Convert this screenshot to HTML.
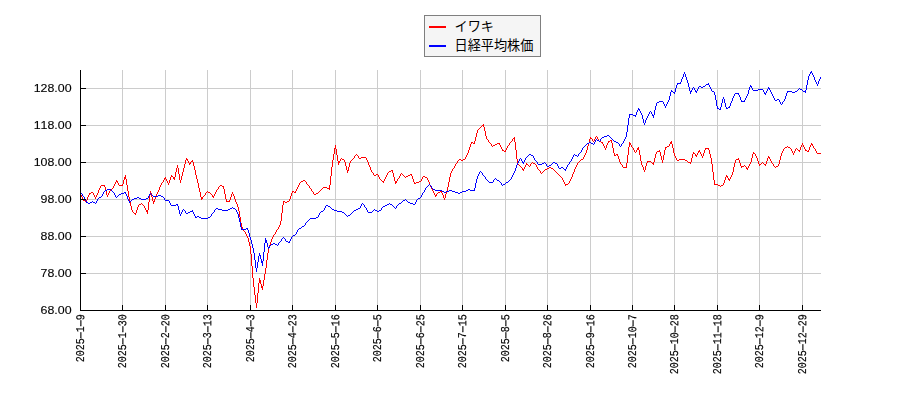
<!DOCTYPE html>
<html lang="ja">
<head>
<meta charset="utf-8">
<title>イワキ と 日経平均株価</title>
<style>
html,body{margin:0;padding:0;background:#fff;}
body{width:900px;height:400px;overflow:hidden;position:relative;font-family:"Liberation Sans",sans-serif;}
svg{position:absolute;left:0;top:0;display:block;}
svg.txt{will-change:transform;}
.yl text{font-family:"Liberation Sans",sans-serif;font-size:11.6px;fill:#000;stroke:#000;stroke-width:0.12px;}
.xl text{font-family:"Liberation Mono",monospace;font-size:10.0px;fill:#000;stroke:#000;stroke-width:0.15px;}
.lg{position:absolute;left:454px;font-family:"Liberation Sans",sans-serif;font-size:13px;line-height:13px;color:transparent;white-space:nowrap;}
</style>
</head>
<body>
<svg width="900" height="400" viewBox="0 0 900 400">
<rect x="0" y="0" width="900" height="400" fill="#ffffff"/>
<g fill="#cccccc" shape-rendering="crispEdges">
<rect x="122" y="70" width="1" height="240"/>
<rect x="165" y="70" width="1" height="240"/>
<rect x="207" y="70" width="1" height="240"/>
<rect x="250" y="70" width="1" height="240"/>
<rect x="292" y="70" width="1" height="240"/>
<rect x="335" y="70" width="1" height="240"/>
<rect x="377" y="70" width="1" height="240"/>
<rect x="420" y="70" width="1" height="240"/>
<rect x="462" y="70" width="1" height="240"/>
<rect x="505" y="70" width="1" height="240"/>
<rect x="547" y="70" width="1" height="240"/>
<rect x="590" y="70" width="1" height="240"/>
<rect x="632" y="70" width="1" height="240"/>
<rect x="674" y="70" width="1" height="240"/>
<rect x="717" y="70" width="1" height="240"/>
<rect x="759" y="70" width="1" height="240"/>
<rect x="802" y="70" width="1" height="240"/>
<rect x="81" y="88" width="740" height="1"/>
<rect x="81" y="125" width="740" height="1"/>
<rect x="81" y="162" width="740" height="1"/>
<rect x="81" y="199" width="740" height="1"/>
<rect x="81" y="236" width="740" height="1"/>
<rect x="81" y="273" width="740" height="1"/>
</g>
<g shape-rendering="crispEdges">
<path fill="#ff0000" d="M483 124h1v3h-1zM482 125h1v1h-1zM481 126h1v1h-1zM480 127h1v1h-1zM484 127h1v4h-1zM479 128h1v1h-1zM478 129h1v1h-1zM477 130h1v3h-1zM485 131h1v5h-1zM476 133h1v4h-1zM486 136h1v3h-1zM596 136h1v1h-1zM475 137h1v4h-1zM514 137h1v5h-1zM590 137h1v2h-1zM595 137h1v2h-1zM597 137h1v2h-1zM513 138h1v1h-1zM591 138h1v1h-1zM487 139h1v1h-1zM512 139h1v2h-1zM589 139h1v4h-1zM592 139h1v2h-1zM594 139h1v2h-1zM598 139h1v2h-1zM488 140h1v2h-1zM610 140h2v1h-2zM474 141h1v3h-1zM511 141h1v1h-1zM593 141h1v1h-1zM599 141h2v1h-2zM608 141h2v1h-2zM611 141h1v2h-1zM671 141h1v3h-1zM471 142h2v1h-2zM489 142h1v1h-1zM510 142h1v1h-1zM515 142h1v8h-1zM601 142h2v1h-2zM608 142h1v1h-1zM629 142h1v5h-1zM670 142h1v2h-1zM471 143h1v1h-1zM473 143h1v1h-1zM490 143h1v1h-1zM497 143h3v1h-3zM509 143h1v2h-1zM588 143h1v3h-1zM602 143h1v1h-1zM607 143h1v2h-1zM612 143h1v5h-1zM630 143h1v2h-1zM802 143h1v2h-1zM811 143h1v2h-1zM470 144h1v3h-1zM491 144h1v2h-1zM495 144h2v1h-2zM499 144h1v1h-1zM603 144h1v2h-1zM669 144h1v2h-1zM672 144h1v4h-1zM812 144h1v2h-1zM335 145h1v4h-1zM493 145h2v1h-2zM500 145h1v2h-1zM508 145h1v1h-1zM606 145h1v3h-1zM631 145h1v2h-1zM801 145h1v2h-1zM803 145h1v2h-1zM810 145h1v2h-1zM492 146h1v1h-1zM507 146h1v2h-1zM587 146h1v4h-1zM604 146h1v2h-1zM667 146h2v1h-2zM787 146h1v1h-1zM813 146h1v2h-1zM469 147h1v3h-1zM501 147h1v2h-1zM628 147h1v8h-1zM632 147h1v1h-1zM638 147h1v3h-1zM665 147h1v3h-1zM666 147h1v1h-1zM785 147h2v1h-2zM788 147h2v1h-2zM800 147h1v3h-1zM804 147h1v2h-1zM809 147h1v3h-1zM334 148h1v6h-1zM506 148h1v2h-1zM605 148h1v2h-1zM613 148h1v5h-1zM633 148h1v2h-1zM637 148h1v2h-1zM673 148h1v5h-1zM705 148h4v1h-4zM784 148h1v1h-1zM790 148h1v1h-1zM796 148h1v1h-1zM814 148h1v1h-1zM336 149h1v6h-1zM502 149h1v2h-1zM705 149h1v1h-1zM708 149h1v1h-1zM783 149h1v2h-1zM791 149h1v2h-1zM795 149h1v2h-1zM797 149h1v1h-1zM805 149h1v2h-1zM815 149h1v2h-1zM468 150h1v3h-1zM503 150h1v1h-1zM505 150h1v2h-1zM516 150h1v9h-1zM586 150h1v3h-1zM634 150h1v2h-1zM636 150h1v2h-1zM639 150h1v5h-1zM659 150h1v2h-1zM664 150h1v5h-1zM699 150h1v2h-1zM704 150h1v3h-1zM709 150h1v4h-1zM798 150h2v1h-2zM806 150h1v1h-1zM808 150h1v2h-1zM504 151h1v1h-1zM657 151h2v1h-2zM698 151h1v2h-1zM782 151h1v2h-1zM792 151h1v2h-1zM794 151h1v2h-1zM799 151h1v1h-1zM807 151h1v1h-1zM816 151h1v2h-1zM635 152h1v1h-1zM656 152h1v2h-1zM660 152h1v4h-1zM693 152h1v2h-1zM700 152h1v2h-1zM753 152h1v2h-1zM467 153h1v2h-1zM585 153h1v2h-1zM614 153h1v3h-1zM674 153h1v3h-1zM694 153h1v1h-1zM697 153h1v2h-1zM703 153h1v3h-1zM754 153h1v1h-1zM781 153h1v3h-1zM793 153h1v2h-1zM817 153h4v1h-4zM333 154h1v6h-1zM356 154h1v1h-1zM616 154h2v1h-2zM655 154h1v4h-1zM692 154h1v4h-1zM695 154h1v2h-1zM701 154h1v2h-1zM710 154h1v4h-1zM752 154h1v4h-1zM755 154h1v2h-1zM337 155h1v6h-1zM355 155h1v1h-1zM357 155h1v1h-1zM466 155h1v2h-1zM584 155h1v2h-1zM615 155h1v1h-1zM617 155h1v1h-1zM627 155h1v8h-1zM640 155h1v6h-1zM663 155h1v5h-1zM696 155h1v2h-1zM354 156h1v2h-1zM358 156h1v2h-1zM618 156h1v3h-1zM661 156h1v4h-1zM675 156h1v2h-1zM702 156h1v2h-1zM756 156h1v2h-1zM768 156h1v2h-1zM780 156h1v4h-1zM361 157h5v1h-5zM465 157h1v2h-1zM583 157h1v2h-1zM769 157h1v2h-1zM186 158h1v2h-1zM341 158h1v1h-1zM353 158h1v1h-1zM359 158h2v1h-2zM366 158h1v2h-1zM654 158h1v4h-1zM676 158h1v2h-1zM691 158h1v4h-1zM711 158h1v6h-1zM738 158h1v2h-1zM751 158h1v4h-1zM757 158h1v3h-1zM767 158h1v3h-1zM187 159h1v2h-1zM340 159h1v2h-1zM342 159h2v1h-2zM352 159h1v1h-1zM459 159h2v1h-2zM463 159h2v1h-2zM517 159h1v5h-1zM581 159h2v1h-2zM619 159h1v3h-1zM679 159h6v1h-6zM736 159h2v1h-2zM770 159h1v2h-1zM185 160h1v4h-1zM192 160h1v2h-1zM332 160h1v7h-1zM344 160h1v2h-1zM351 160h1v1h-1zM367 160h1v2h-1zM458 160h1v1h-1zM461 160h2v1h-2zM580 160h1v1h-1zM662 160h1v3h-1zM677 160h2v1h-2zM685 160h2v1h-2zM735 160h1v3h-1zM739 160h1v3h-1zM779 160h1v4h-1zM188 161h1v2h-1zM191 161h1v1h-1zM338 161h1v4h-1zM339 161h1v2h-1zM350 161h1v2h-1zM457 161h1v2h-1zM579 161h1v1h-1zM641 161h1v4h-1zM647 161h4v1h-4zM687 161h1v1h-1zM758 161h1v3h-1zM766 161h1v3h-1zM771 161h1v2h-1zM190 162h1v2h-1zM193 162h1v4h-1zM345 162h1v4h-1zM368 162h1v3h-1zM532 162h1v1h-1zM578 162h1v1h-1zM620 162h1v2h-1zM647 162h1v1h-1zM651 162h1v1h-1zM653 162h1v3h-1zM688 162h3v1h-3zM750 162h1v2h-1zM762 162h1v1h-1zM189 163h1v2h-1zM349 163h1v4h-1zM456 163h1v1h-1zM526 163h1v2h-1zM531 163h1v1h-1zM533 163h2v1h-2zM577 163h1v2h-1zM626 163h1v5h-1zM646 163h1v3h-1zM652 163h1v1h-1zM690 163h1v1h-1zM734 163h1v4h-1zM740 163h1v3h-1zM761 163h1v1h-1zM763 163h1v1h-1zM772 163h1v1h-1zM184 164h1v4h-1zM455 164h1v2h-1zM518 164h1v1h-1zM527 164h1v1h-1zM530 164h1v2h-1zM535 164h1v1h-1zM621 164h1v1h-1zM712 164h1v8h-1zM749 164h1v2h-1zM759 164h2v1h-2zM764 164h2v1h-2zM773 164h1v2h-1zM778 164h1v2h-1zM177 165h1v3h-1zM369 165h1v2h-1zM519 165h1v1h-1zM525 165h1v2h-1zM528 165h1v1h-1zM536 165h1v2h-1zM576 165h1v2h-1zM622 165h1v2h-1zM642 165h1v2h-1zM744 165h1v1h-1zM759 165h1v1h-1zM765 165h1v1h-1zM194 166h1v4h-1zM346 166h1v4h-1zM454 166h1v2h-1zM520 166h1v1h-1zM529 166h1v1h-1zM645 166h1v4h-1zM741 166h3v1h-3zM745 166h1v1h-1zM748 166h1v2h-1zM774 166h1v1h-1zM776 166h2v1h-2zM331 167h1v9h-1zM348 167h1v4h-1zM370 167h1v3h-1zM521 167h1v1h-1zM524 167h1v2h-1zM537 167h1v2h-1zM549 167h2v1h-2zM575 167h1v2h-1zM623 167h3v1h-3zM643 167h1v3h-1zM733 167h1v5h-1zM741 167h1v1h-1zM746 167h1v2h-1zM775 167h1v1h-1zM176 168h1v4h-1zM178 168h1v6h-1zM183 168h1v4h-1zM453 168h1v1h-1zM522 168h1v2h-1zM547 168h2v1h-2zM551 168h2v1h-2zM747 168h1v2h-1zM452 169h1v2h-1zM523 169h1v2h-1zM538 169h1v1h-1zM545 169h2v1h-2zM553 169h1v1h-1zM574 169h1v3h-1zM195 170h1v5h-1zM347 170h1v3h-1zM371 170h1v2h-1zM391 170h2v1h-2zM539 170h1v1h-1zM544 170h1v1h-1zM554 170h1v1h-1zM644 170h1v2h-1zM389 171h2v1h-2zM392 171h1v2h-1zM451 171h1v2h-1zM540 171h1v2h-1zM543 171h1v1h-1zM555 171h1v1h-1zM175 172h1v5h-1zM182 172h1v4h-1zM372 172h1v1h-1zM388 172h1v1h-1zM542 172h1v1h-1zM556 172h1v1h-1zM573 172h1v2h-1zM713 172h1v8h-1zM732 172h1v3h-1zM373 173h1v2h-1zM387 173h1v2h-1zM393 173h1v4h-1zM401 173h1v1h-1zM450 173h1v4h-1zM541 173h1v1h-1zM557 173h1v1h-1zM179 174h1v6h-1zM376 174h2v1h-2zM400 174h1v2h-1zM402 174h1v1h-1zM410 174h2v1h-2zM558 174h1v1h-1zM572 174h1v3h-1zM125 175h1v4h-1zM171 175h1v2h-1zM196 175h1v4h-1zM374 175h2v1h-2zM378 175h1v2h-1zM386 175h1v2h-1zM403 175h1v1h-1zM408 175h2v1h-2zM411 175h1v1h-1zM559 175h1v1h-1zM726 175h1v2h-1zM731 175h1v2h-1zM172 176h1v1h-1zM181 176h1v4h-1zM330 176h1v9h-1zM399 176h1v2h-1zM404 176h1v1h-1zM406 176h2v1h-2zM412 176h1v3h-1zM423 176h2v1h-2zM560 176h1v1h-1zM727 176h1v2h-1zM124 177h1v3h-1zM165 177h1v2h-1zM170 177h1v3h-1zM173 177h2v1h-2zM379 177h1v2h-1zM385 177h1v2h-1zM394 177h1v4h-1zM405 177h1v1h-1zM422 177h1v2h-1zM425 177h2v1h-2zM449 177h1v5h-1zM561 177h1v1h-1zM571 177h1v2h-1zM725 177h1v3h-1zM730 177h1v2h-1zM164 178h1v2h-1zM173 178h2v1h-2zM398 178h1v1h-1zM427 178h1v2h-1zM562 178h1v2h-1zM728 178h1v2h-1zM126 179h1v6h-1zM166 179h1v2h-1zM174 179h1v1h-1zM197 179h1v4h-1zM380 179h1v1h-1zM384 179h1v2h-1zM397 179h1v2h-1zM413 179h1v3h-1zM421 179h1v2h-1zM570 179h1v2h-1zM729 179h1v2h-1zM116 180h1v2h-1zM123 180h1v4h-1zM163 180h1v2h-1zM169 180h1v3h-1zM180 180h1v3h-1zM303 180h2v1h-2zM381 180h1v1h-1zM428 180h1v2h-1zM563 180h1v2h-1zM714 180h1v5h-1zM724 180h1v3h-1zM117 181h1v2h-1zM167 181h1v2h-1zM301 181h2v1h-2zM305 181h1v1h-1zM382 181h2v1h-2zM395 181h1v3h-1zM396 181h1v2h-1zM419 181h2v1h-2zM569 181h1v2h-1zM115 182h1v2h-1zM162 182h1v1h-1zM300 182h1v1h-1zM306 182h1v2h-1zM383 182h1v1h-1zM414 182h1v2h-1zM416 182h3v1h-3zM429 182h1v3h-1zM448 182h1v5h-1zM564 182h1v2h-1zM118 183h1v2h-1zM161 183h1v2h-1zM168 183h1v2h-1zM198 183h1v5h-1zM299 183h1v2h-1zM415 183h1v1h-1zM568 183h1v1h-1zM723 183h1v2h-1zM114 184h1v2h-1zM122 184h1v2h-1zM307 184h1v1h-1zM565 184h3v1h-3zM715 184h3v1h-3zM101 185h4v1h-4zM119 185h3v1h-3zM127 185h1v6h-1zM160 185h1v2h-1zM220 185h2v1h-2zM298 185h1v2h-1zM308 185h1v1h-1zM329 185h1v5h-1zM430 185h1v2h-1zM565 185h1v1h-1zM718 185h2v1h-2zM721 185h2v1h-2zM100 186h1v2h-1zM104 186h1v1h-1zM113 186h1v2h-1zM219 186h1v1h-1zM222 186h2v1h-2zM309 186h1v2h-1zM720 186h1v1h-1zM105 187h1v4h-1zM159 187h1v3h-1zM218 187h1v2h-1zM223 187h1v2h-1zM297 187h1v2h-1zM323 187h4v1h-4zM431 187h1v2h-1zM447 187h1v4h-1zM99 188h1v2h-1zM112 188h1v1h-1zM199 188h1v4h-1zM310 188h1v1h-1zM322 188h1v1h-1zM327 188h2v1h-2zM111 189h1v1h-1zM217 189h1v1h-1zM224 189h1v5h-1zM296 189h1v2h-1zM311 189h1v2h-1zM321 189h1v1h-1zM432 189h1v2h-1zM98 190h1v3h-1zM110 190h1v1h-1zM158 190h1v2h-1zM216 190h1v2h-1zM320 190h1v1h-1zM106 191h1v4h-1zM109 191h1v2h-1zM128 191h1v6h-1zM150 191h1v4h-1zM207 191h1v1h-1zM292 191h2v1h-2zM295 191h1v2h-1zM312 191h1v1h-1zM319 191h1v1h-1zM433 191h1v2h-1zM440 191h2v1h-2zM446 191h1v3h-1zM91 192h2v1h-2zM157 192h1v2h-1zM200 192h1v5h-1zM206 192h1v1h-1zM208 192h2v1h-2zM215 192h1v2h-1zM232 192h1v2h-1zM292 192h1v1h-1zM294 192h1v1h-1zM313 192h1v2h-1zM318 192h1v1h-1zM438 192h2v1h-2zM441 192h1v1h-1zM89 193h2v1h-2zM93 193h1v2h-1zM97 193h1v2h-1zM108 193h1v2h-1zM151 193h1v4h-1zM205 193h1v2h-1zM210 193h1v1h-1zM291 193h1v3h-1zM316 193h2v1h-2zM434 193h1v2h-1zM437 193h1v1h-1zM442 193h1v2h-1zM80 194h1v1h-1zM89 194h1v1h-1zM156 194h1v3h-1zM211 194h1v1h-1zM214 194h1v2h-1zM225 194h1v5h-1zM231 194h1v3h-1zM233 194h1v2h-1zM314 194h2v1h-2zM436 194h1v2h-1zM445 194h1v4h-1zM81 195h1v2h-1zM88 195h1v2h-1zM94 195h1v2h-1zM96 195h1v2h-1zM107 195h1v2h-1zM149 195h1v7h-1zM204 195h1v1h-1zM212 195h1v2h-1zM435 195h1v2h-1zM443 195h1v3h-1zM203 196h1v1h-1zM213 196h1v2h-1zM234 196h1v3h-1zM290 196h1v3h-1zM82 197h1v2h-1zM87 197h1v3h-1zM95 197h1v2h-1zM129 197h1v5h-1zM152 197h1v4h-1zM155 197h1v2h-1zM201 197h1v3h-1zM202 197h1v2h-1zM230 197h1v3h-1zM444 198h1v2h-1zM83 199h1v2h-1zM154 199h1v3h-1zM226 199h1v3h-1zM235 199h1v3h-1zM289 199h1v2h-1zM84 200h1v1h-1zM86 200h1v2h-1zM229 200h1v2h-1zM85 201h1v1h-1zM153 201h1v3h-1zM227 201h2v1h-2zM283 201h1v4h-1zM284 201h1v1h-1zM287 201h2v1h-2zM130 202h1v4h-1zM148 202h1v8h-1zM236 202h1v2h-1zM285 202h2v1h-2zM141 203h1v1h-1zM139 204h2v1h-2zM142 204h1v1h-1zM237 204h1v3h-1zM138 205h1v2h-1zM143 205h1v1h-1zM282 205h1v8h-1zM131 206h1v4h-1zM144 206h1v2h-1zM137 207h1v3h-1zM238 207h1v4h-1zM145 208h1v2h-1zM132 210h1v2h-1zM136 210h1v3h-1zM146 210h2v1h-2zM146 211h2v1h-2zM239 211h1v6h-1zM133 212h1v1h-1zM147 212h1v2h-1zM134 213h2v1h-2zM281 213h1v8h-1zM135 214h1v1h-1zM240 217h1v6h-1zM280 221h1v4h-1zM241 223h1v4h-1zM279 225h1v2h-1zM242 227h1v2h-1zM278 227h1v2h-1zM243 229h1v2h-1zM277 229h1v1h-1zM276 230h1v2h-1zM244 231h1v1h-1zM245 232h1v2h-1zM275 232h1v2h-1zM246 234h1v2h-1zM274 234h1v1h-1zM273 235h1v2h-1zM247 236h1v2h-1zM272 237h1v2h-1zM248 238h1v4h-1zM271 239h1v3h-1zM249 242h1v4h-1zM270 242h1v3h-1zM269 245h1v3h-1zM250 246h1v8h-1zM268 248h1v5h-1zM267 253h1v7h-1zM251 254h1v12h-1zM266 260h1v8h-1zM252 266h1v12h-1zM265 268h1v6h-1zM264 274h1v6h-1zM253 278h1v9h-1zM259 278h1v5h-1zM260 280h1v4h-1zM263 280h1v6h-1zM258 283h1v10h-1zM261 284h1v4h-1zM262 286h1v4h-1zM254 287h1v8h-1zM257 293h1v10h-1zM255 295h1v8h-1zM256 303h1v5h-1z"/>
<path fill="#0000ff" d="M811 71h1v2h-1zM684 72h1v2h-1zM810 72h1v2h-1zM812 73h1v2h-1zM683 74h1v3h-1zM685 74h1v3h-1zM809 74h1v2h-1zM813 75h1v2h-1zM808 76h1v4h-1zM682 77h1v2h-1zM686 77h1v3h-1zM814 77h1v3h-1zM820 77h1v2h-1zM681 79h1v3h-1zM819 79h1v2h-1zM687 80h1v3h-1zM807 80h1v5h-1zM815 80h1v2h-1zM818 81h1v3h-1zM680 82h1v2h-1zM816 82h1v2h-1zM677 83h3v1h-3zM688 83h1v4h-1zM708 83h1v2h-1zM677 84h1v1h-1zM706 84h2v1h-2zM817 84h1v2h-1zM676 85h1v3h-1zM705 85h1v1h-1zM709 85h1v2h-1zM750 85h1v2h-1zM806 85h1v5h-1zM699 86h2v1h-2zM703 86h2v1h-2zM751 86h1v2h-1zM689 87h1v4h-1zM693 87h1v1h-1zM698 87h1v2h-1zM701 87h2v1h-2zM710 87h1v2h-1zM749 87h1v3h-1zM768 87h1v2h-1zM675 88h1v4h-1zM692 88h1v2h-1zM694 88h1v2h-1zM752 88h1v2h-1zM769 88h1v2h-1zM799 88h1v1h-1zM697 89h1v2h-1zM711 89h1v2h-1zM758 89h5v1h-5zM767 89h1v2h-1zM798 89h1v1h-1zM800 89h2v1h-2zM671 90h1v2h-1zM691 90h1v2h-1zM695 90h1v2h-1zM748 90h1v4h-1zM753 90h5v1h-5zM763 90h1v2h-1zM770 90h1v2h-1zM797 90h1v1h-1zM802 90h1v1h-1zM805 90h1v3h-1zM672 91h1v1h-1zM690 91h1v3h-1zM696 91h1v2h-1zM712 91h2v1h-2zM766 91h1v2h-1zM787 91h5v1h-5zM795 91h2v1h-2zM803 91h2v1h-2zM670 92h1v4h-1zM673 92h2v1h-2zM714 92h1v3h-1zM764 92h1v2h-1zM771 92h1v2h-1zM787 92h1v1h-1zM792 92h3v1h-3zM674 93h1v1h-1zM735 93h4v1h-4zM765 93h1v2h-1zM786 93h1v3h-1zM734 94h1v2h-1zM738 94h1v1h-1zM747 94h1v2h-1zM772 94h1v2h-1zM715 95h1v5h-1zM739 95h1v2h-1zM669 96h1v4h-1zM733 96h1v2h-1zM746 96h1v2h-1zM773 96h1v2h-1zM785 96h1v3h-1zM723 97h1v2h-1zM740 97h1v3h-1zM732 98h1v3h-1zM745 98h1v2h-1zM774 98h1v2h-1zM722 99h1v4h-1zM724 99h1v4h-1zM777 99h2v1h-2zM784 99h1v2h-1zM668 100h1v2h-1zM716 100h1v6h-1zM741 100h1v2h-1zM744 100h1v2h-1zM775 100h2v1h-2zM779 100h1v2h-1zM659 101h4v1h-4zM731 101h1v2h-1zM742 101h2v1h-2zM783 101h1v1h-1zM657 102h2v1h-2zM663 102h1v2h-1zM667 102h1v2h-1zM780 102h1v2h-1zM782 102h1v2h-1zM656 103h1v3h-1zM721 103h1v4h-1zM725 103h1v4h-1zM730 103h1v3h-1zM664 104h1v2h-1zM666 104h1v2h-1zM781 104h1v1h-1zM655 106h1v4h-1zM665 106h1v2h-1zM717 106h1v3h-1zM729 106h1v2h-1zM720 107h1v3h-1zM726 107h1v2h-1zM728 107h1v1h-1zM638 108h1v2h-1zM718 108h1v1h-1zM727 108h1v1h-1zM639 109h1v2h-1zM719 109h1v1h-1zM637 110h1v2h-1zM654 110h1v5h-1zM640 111h1v2h-1zM650 111h1v1h-1zM636 112h1v3h-1zM649 112h1v2h-1zM651 112h1v2h-1zM641 113h1v2h-1zM629 114h4v1h-4zM648 114h1v2h-1zM652 114h1v2h-1zM629 115h1v3h-1zM633 115h3v1h-3zM642 115h1v4h-1zM653 115h1v3h-1zM635 116h1v1h-1zM647 116h1v2h-1zM628 118h1v7h-1zM646 118h1v2h-1zM643 119h1v4h-1zM645 120h1v3h-1zM644 123h1v2h-1zM627 125h1v7h-1zM626 132h1v5h-1zM607 135h2v1h-2zM604 136h3v1h-3zM609 136h1v1h-1zM602 137h2v1h-2zM610 137h1v1h-1zM625 137h1v2h-1zM601 138h1v1h-1zM611 138h1v1h-1zM596 139h1v1h-1zM600 139h1v2h-1zM612 139h1v1h-1zM624 139h1v2h-1zM595 140h1v2h-1zM597 140h2v1h-2zM613 140h1v1h-1zM599 141h1v1h-1zM614 141h2v1h-2zM623 141h1v2h-1zM589 142h2v1h-2zM594 142h1v2h-1zM616 142h2v1h-2zM587 143h2v1h-2zM591 143h2v1h-2zM618 143h1v1h-1zM622 143h1v1h-1zM586 144h1v1h-1zM593 144h1v1h-1zM619 144h1v2h-1zM621 144h1v2h-1zM585 145h1v1h-1zM584 146h1v1h-1zM620 146h1v1h-1zM583 147h1v1h-1zM582 148h1v2h-1zM581 150h1v2h-1zM580 152h1v1h-1zM579 153h1v1h-1zM529 154h2v1h-2zM574 154h1v1h-1zM578 154h1v2h-1zM528 155h1v1h-1zM531 155h2v1h-2zM573 155h1v2h-1zM575 155h2v1h-2zM527 156h1v1h-1zM533 156h1v2h-1zM577 156h1v1h-1zM526 157h1v1h-1zM572 157h1v2h-1zM520 158h1v1h-1zM525 158h1v2h-1zM534 158h1v2h-1zM519 159h1v2h-1zM521 159h1v2h-1zM571 159h1v2h-1zM524 160h1v2h-1zM535 160h1v1h-1zM518 161h1v2h-1zM522 161h1v2h-1zM536 161h1v1h-1zM570 161h1v1h-1zM523 162h1v2h-1zM537 162h1v2h-1zM544 162h1v1h-1zM553 162h2v1h-2zM569 162h1v2h-1zM517 163h1v2h-1zM542 163h2v1h-2zM545 163h1v1h-1zM552 163h1v1h-1zM555 163h2v1h-2zM538 164h4v1h-4zM546 164h1v2h-1zM551 164h1v1h-1zM557 164h1v2h-1zM568 164h1v1h-1zM516 165h1v3h-1zM549 165h2v1h-2zM567 165h1v2h-1zM547 166h2v1h-2zM558 166h1v2h-1zM561 167h2v1h-2zM566 167h1v2h-1zM515 168h1v3h-1zM559 168h2v1h-2zM563 168h1v1h-1zM564 169h2v1h-2zM565 170h1v1h-1zM480 171h1v1h-1zM514 171h1v2h-1zM479 172h1v2h-1zM481 172h1v1h-1zM482 173h1v2h-1zM513 173h1v2h-1zM478 174h1v2h-1zM483 175h1v1h-1zM512 175h1v2h-1zM477 176h1v3h-1zM484 176h1v1h-1zM485 177h1v2h-1zM511 177h1v2h-1zM495 178h1v1h-1zM476 179h1v4h-1zM486 179h1v1h-1zM494 179h1v1h-1zM496 179h1v1h-1zM510 179h1v1h-1zM487 180h1v1h-1zM493 180h1v2h-1zM497 180h2v1h-2zM509 180h1v1h-1zM488 181h1v1h-1zM499 181h1v1h-1zM508 181h1v1h-1zM489 182h4v1h-4zM500 182h1v1h-1zM506 182h2v1h-2zM475 183h1v5h-1zM501 183h1v2h-1zM505 183h1v1h-1zM429 184h1v1h-1zM503 184h2v1h-2zM428 185h1v1h-1zM430 185h1v1h-1zM502 185h1v1h-1zM427 186h1v1h-1zM431 186h1v2h-1zM426 187h1v1h-1zM425 188h1v2h-1zM432 188h1v1h-1zM474 188h1v3h-1zM107 189h4v1h-4zM433 189h2v1h-2zM468 189h2v1h-2zM105 190h2v1h-2zM111 190h1v1h-1zM424 190h1v2h-1zM435 190h7v1h-7zM449 190h3v1h-3zM466 190h2v1h-2zM470 190h4v1h-4zM104 191h1v1h-1zM112 191h1v1h-1zM442 191h2v1h-2zM446 191h3v1h-3zM452 191h3v1h-3zM462 191h4v1h-4zM80 192h1v1h-1zM103 192h1v2h-1zM113 192h1v1h-1zM124 192h2v1h-2zM423 192h1v1h-1zM444 192h2v1h-2zM455 192h3v1h-3zM460 192h2v1h-2zM81 193h1v1h-1zM114 193h1v2h-1zM121 193h3v1h-3zM125 193h1v1h-1zM150 193h1v1h-1zM422 193h1v2h-1zM458 193h2v1h-2zM82 194h1v2h-1zM102 194h1v2h-1zM119 194h2v1h-2zM126 194h1v2h-1zM149 194h1v2h-1zM151 194h1v1h-1zM115 195h1v2h-1zM118 195h1v1h-1zM152 195h1v1h-1zM158 195h3v1h-3zM421 195h1v2h-1zM83 196h1v1h-1zM101 196h1v1h-1zM117 196h1v1h-1zM127 196h1v3h-1zM148 196h1v2h-1zM153 196h5v1h-5zM161 196h2v1h-2zM84 197h1v2h-1zM99 197h2v1h-2zM116 197h1v1h-1zM137 197h2v1h-2zM163 197h1v1h-1zM420 197h1v1h-1zM98 198h1v1h-1zM134 198h3v1h-3zM139 198h2v1h-2zM146 198h2v1h-2zM164 198h1v2h-1zM418 198h2v1h-2zM85 199h1v2h-1zM97 199h1v2h-1zM128 199h1v2h-1zM132 199h2v1h-2zM141 199h5v1h-5zM405 199h1v1h-1zM417 199h1v1h-1zM131 200h1v1h-1zM165 200h4v1h-4zM403 200h2v1h-2zM406 200h1v1h-1zM416 200h1v2h-1zM86 201h1v2h-1zM92 201h1v1h-1zM96 201h1v2h-1zM129 201h2v1h-2zM169 201h1v2h-1zM402 201h1v1h-1zM407 201h1v1h-1zM87 202h1v1h-1zM90 202h2v1h-2zM93 202h2v1h-2zM129 202h1v1h-1zM401 202h1v1h-1zM408 202h2v1h-2zM415 202h1v2h-1zM88 203h2v1h-2zM95 203h1v1h-1zM170 203h1v2h-1zM362 203h1v1h-1zM389 203h1v1h-1zM399 203h2v1h-2zM410 203h3v1h-3zM176 204h2v1h-2zM361 204h1v2h-1zM363 204h1v1h-1zM387 204h2v1h-2zM390 204h2v1h-2zM398 204h1v1h-1zM413 204h2v1h-2zM171 205h5v1h-5zM177 205h1v1h-1zM326 205h2v1h-2zM364 205h1v2h-1zM385 205h2v1h-2zM392 205h1v1h-1zM397 205h1v1h-1zM178 206h1v4h-1zM325 206h1v2h-1zM328 206h2v1h-2zM360 206h1v2h-1zM383 206h2v1h-2zM393 206h1v1h-1zM396 206h1v2h-1zM232 207h1v1h-1zM330 207h1v1h-1zM365 207h1v1h-1zM382 207h1v1h-1zM394 207h1v1h-1zM216 208h2v1h-2zM230 208h2v1h-2zM233 208h2v1h-2zM324 208h1v2h-1zM331 208h1v1h-1zM358 208h2v1h-2zM366 208h1v2h-1zM381 208h1v2h-1zM395 208h1v1h-1zM183 209h1v1h-1zM215 209h1v1h-1zM218 209h4v1h-4zM228 209h2v1h-2zM235 209h1v1h-1zM332 209h2v1h-2zM356 209h2v1h-2zM374 209h1v1h-1zM179 210h1v4h-1zM182 210h1v2h-1zM184 210h1v1h-1zM192 210h1v2h-1zM214 210h1v2h-1zM222 210h6v1h-6zM236 210h1v2h-1zM323 210h1v1h-1zM334 210h3v1h-3zM354 210h2v1h-2zM367 210h1v2h-1zM373 210h1v1h-1zM375 210h2v1h-2zM379 210h2v1h-2zM185 211h1v2h-1zM190 211h2v1h-2zM321 211h2v1h-2zM337 211h5v1h-5zM353 211h1v1h-1zM372 211h1v1h-1zM377 211h2v1h-2zM181 212h1v2h-1zM188 212h2v1h-2zM193 212h1v2h-1zM213 212h1v1h-1zM237 212h1v2h-1zM320 212h1v1h-1zM342 212h2v1h-2zM352 212h1v1h-1zM368 212h4v1h-4zM186 213h2v1h-2zM212 213h1v1h-1zM319 213h1v2h-1zM344 213h1v1h-1zM351 213h1v1h-1zM180 214h1v2h-1zM194 214h1v2h-1zM211 214h1v2h-1zM238 214h1v4h-1zM345 214h1v1h-1zM350 214h1v1h-1zM318 215h1v2h-1zM346 215h1v1h-1zM348 215h2v1h-2zM195 216h1v2h-1zM197 216h2v1h-2zM210 216h1v1h-1zM347 216h1v1h-1zM196 217h1v1h-1zM199 217h2v1h-2zM208 217h2v1h-2zM316 217h2v1h-2zM201 218h7v1h-7zM239 218h1v4h-1zM310 218h6v1h-6zM309 219h1v1h-1zM308 220h1v1h-1zM307 221h1v1h-1zM240 222h1v5h-1zM306 222h1v1h-1zM305 223h1v2h-1zM304 225h1v1h-1zM302 226h2v1h-2zM241 227h1v3h-1zM301 227h1v1h-1zM246 228h2v1h-2zM299 228h2v1h-2zM242 229h4v1h-4zM247 229h1v1h-1zM298 229h1v1h-1zM248 230h1v3h-1zM297 230h1v2h-1zM296 232h1v2h-1zM249 233h1v4h-1zM295 234h1v1h-1zM293 235h2v1h-2zM292 236h1v1h-1zM250 237h1v3h-1zM283 237h1v1h-1zM291 237h1v2h-1zM265 238h1v5h-1zM282 238h1v1h-1zM284 238h1v1h-1zM281 239h1v2h-1zM285 239h1v2h-1zM290 239h1v2h-1zM251 240h1v4h-1zM266 240h1v3h-1zM280 241h1v1h-1zM286 241h2v1h-2zM289 241h1v2h-1zM279 242h1v1h-1zM288 242h1v1h-1zM264 243h1v9h-1zM267 243h1v4h-1zM273 243h2v1h-2zM278 243h1v2h-1zM252 244h1v4h-1zM271 244h2v1h-2zM275 244h2v1h-2zM270 245h1v1h-1zM277 245h1v1h-1zM269 246h1v2h-1zM268 247h1v2h-1zM253 248h1v5h-1zM263 252h1v9h-1zM254 253h1v7h-1zM259 253h1v3h-1zM260 255h1v4h-1zM258 256h1v6h-1zM261 259h1v4h-1zM255 260h1v8h-1zM262 261h1v5h-1zM257 262h1v6h-1zM256 268h1v4h-1z"/>
</g>
<g fill="#000000" shape-rendering="crispEdges">
<rect x="80" y="70" width="1" height="241"/>
<rect x="80" y="310" width="741" height="1"/>
<rect x="122" y="305" width="1" height="5"/>
<rect x="165" y="305" width="1" height="5"/>
<rect x="207" y="305" width="1" height="5"/>
<rect x="250" y="305" width="1" height="5"/>
<rect x="292" y="305" width="1" height="5"/>
<rect x="335" y="305" width="1" height="5"/>
<rect x="377" y="305" width="1" height="5"/>
<rect x="420" y="305" width="1" height="5"/>
<rect x="462" y="305" width="1" height="5"/>
<rect x="505" y="305" width="1" height="5"/>
<rect x="547" y="305" width="1" height="5"/>
<rect x="590" y="305" width="1" height="5"/>
<rect x="632" y="305" width="1" height="5"/>
<rect x="674" y="305" width="1" height="5"/>
<rect x="717" y="305" width="1" height="5"/>
<rect x="759" y="305" width="1" height="5"/>
<rect x="802" y="305" width="1" height="5"/>
<rect x="81" y="88" width="5" height="1"/>
<rect x="81" y="125" width="5" height="1"/>
<rect x="81" y="162" width="5" height="1"/>
<rect x="81" y="199" width="5" height="1"/>
<rect x="81" y="236" width="5" height="1"/>
<rect x="81" y="273" width="5" height="1"/>
</g>
<g shape-rendering="crispEdges">
<rect x="424.5" y="15.5" width="116" height="41" fill="#f5f5f5" stroke="#7f7f7f" stroke-width="1"/>
<rect x="429" y="26" width="17" height="2" fill="#ff0000"/>
<rect x="429" y="45" width="17" height="2" fill="#0000ff"/>
</g>
<g fill="#000000" font-family="&quot;Liberation Sans&quot;, &quot;Noto Sans CJK JP&quot;, sans-serif" font-size="13.15px">
<text x="454.5" y="31">イワキ</text>
<text x="454.5" y="50">日経平均株価</text>
</g>
</svg>
<svg class="txt" width="900" height="400" viewBox="0 0 900 400">
<g class="yl">
<text transform="translate(71.6,92.2) scale(1.07,1)" x="-35.48 -29.03 -22.58 -16.13 -12.90 -6.45">128.00</text>
<text transform="translate(71.6,129.2) scale(1.07,1)" x="-35.48 -29.03 -22.58 -16.13 -12.90 -6.45">118.00</text>
<text transform="translate(71.6,166.2) scale(1.07,1)" x="-35.48 -29.03 -22.58 -16.13 -12.90 -6.45">108.00</text>
<text transform="translate(71.6,203.2) scale(1.07,1)" x="-29.03 -22.58 -16.13 -12.90 -6.45">98.00</text>
<text transform="translate(71.6,240.2) scale(1.07,1)" x="-29.03 -22.58 -16.13 -12.90 -6.45">88.00</text>
<text transform="translate(71.6,277.2) scale(1.07,1)" x="-29.03 -22.58 -16.13 -12.90 -6.45">78.00</text>
<text transform="translate(71.6,314.2) scale(1.07,1)" x="-29.03 -22.58 -16.13 -12.90 -6.45">68.00</text>
</g>
<g class="xl">
<text transform="translate(84.0,362.2) rotate(-89.8) scale(1.0,1.2)"><tspan x="0.00 6.00 12.00 18.00">2025</tspan><tspan x="21.00" textLength="12.00" lengthAdjust="spacingAndGlyphs">-</tspan><tspan x="30.00">1</tspan><tspan x="33.00" textLength="12.00" lengthAdjust="spacingAndGlyphs">-</tspan><tspan x="42.00">9</tspan></text>
<text transform="translate(126.0,368.2) rotate(-89.8) scale(1.0,1.2)"><tspan x="0.00 6.00 12.00 18.00">2025</tspan><tspan x="21.00" textLength="12.00" lengthAdjust="spacingAndGlyphs">-</tspan><tspan x="30.00">1</tspan><tspan x="33.00" textLength="12.00" lengthAdjust="spacingAndGlyphs">-</tspan><tspan x="42.00 48.00">30</tspan></text>
<text transform="translate(169.0,368.2) rotate(-89.8) scale(1.0,1.2)"><tspan x="0.00 6.00 12.00 18.00">2025</tspan><tspan x="21.00" textLength="12.00" lengthAdjust="spacingAndGlyphs">-</tspan><tspan x="30.00">2</tspan><tspan x="33.00" textLength="12.00" lengthAdjust="spacingAndGlyphs">-</tspan><tspan x="42.00 48.00">20</tspan></text>
<text transform="translate(211.0,368.2) rotate(-89.8) scale(1.0,1.2)"><tspan x="0.00 6.00 12.00 18.00">2025</tspan><tspan x="21.00" textLength="12.00" lengthAdjust="spacingAndGlyphs">-</tspan><tspan x="30.00">3</tspan><tspan x="33.00" textLength="12.00" lengthAdjust="spacingAndGlyphs">-</tspan><tspan x="42.00 48.00">13</tspan></text>
<text transform="translate(254.0,362.2) rotate(-89.8) scale(1.0,1.2)"><tspan x="0.00 6.00 12.00 18.00">2025</tspan><tspan x="21.00" textLength="12.00" lengthAdjust="spacingAndGlyphs">-</tspan><tspan x="30.00">4</tspan><tspan x="33.00" textLength="12.00" lengthAdjust="spacingAndGlyphs">-</tspan><tspan x="42.00">3</tspan></text>
<text transform="translate(296.0,368.2) rotate(-89.8) scale(1.0,1.2)"><tspan x="0.00 6.00 12.00 18.00">2025</tspan><tspan x="21.00" textLength="12.00" lengthAdjust="spacingAndGlyphs">-</tspan><tspan x="30.00">4</tspan><tspan x="33.00" textLength="12.00" lengthAdjust="spacingAndGlyphs">-</tspan><tspan x="42.00 48.00">23</tspan></text>
<text transform="translate(339.0,368.2) rotate(-89.8) scale(1.0,1.2)"><tspan x="0.00 6.00 12.00 18.00">2025</tspan><tspan x="21.00" textLength="12.00" lengthAdjust="spacingAndGlyphs">-</tspan><tspan x="30.00">5</tspan><tspan x="33.00" textLength="12.00" lengthAdjust="spacingAndGlyphs">-</tspan><tspan x="42.00 48.00">16</tspan></text>
<text transform="translate(381.0,362.2) rotate(-89.8) scale(1.0,1.2)"><tspan x="0.00 6.00 12.00 18.00">2025</tspan><tspan x="21.00" textLength="12.00" lengthAdjust="spacingAndGlyphs">-</tspan><tspan x="30.00">6</tspan><tspan x="33.00" textLength="12.00" lengthAdjust="spacingAndGlyphs">-</tspan><tspan x="42.00">5</tspan></text>
<text transform="translate(424.0,368.2) rotate(-89.8) scale(1.0,1.2)"><tspan x="0.00 6.00 12.00 18.00">2025</tspan><tspan x="21.00" textLength="12.00" lengthAdjust="spacingAndGlyphs">-</tspan><tspan x="30.00">6</tspan><tspan x="33.00" textLength="12.00" lengthAdjust="spacingAndGlyphs">-</tspan><tspan x="42.00 48.00">25</tspan></text>
<text transform="translate(466.0,368.2) rotate(-89.8) scale(1.0,1.2)"><tspan x="0.00 6.00 12.00 18.00">2025</tspan><tspan x="21.00" textLength="12.00" lengthAdjust="spacingAndGlyphs">-</tspan><tspan x="30.00">7</tspan><tspan x="33.00" textLength="12.00" lengthAdjust="spacingAndGlyphs">-</tspan><tspan x="42.00 48.00">15</tspan></text>
<text transform="translate(509.0,362.2) rotate(-89.8) scale(1.0,1.2)"><tspan x="0.00 6.00 12.00 18.00">2025</tspan><tspan x="21.00" textLength="12.00" lengthAdjust="spacingAndGlyphs">-</tspan><tspan x="30.00">8</tspan><tspan x="33.00" textLength="12.00" lengthAdjust="spacingAndGlyphs">-</tspan><tspan x="42.00">5</tspan></text>
<text transform="translate(551.0,368.2) rotate(-89.8) scale(1.0,1.2)"><tspan x="0.00 6.00 12.00 18.00">2025</tspan><tspan x="21.00" textLength="12.00" lengthAdjust="spacingAndGlyphs">-</tspan><tspan x="30.00">8</tspan><tspan x="33.00" textLength="12.00" lengthAdjust="spacingAndGlyphs">-</tspan><tspan x="42.00 48.00">26</tspan></text>
<text transform="translate(594.0,368.2) rotate(-89.8) scale(1.0,1.2)"><tspan x="0.00 6.00 12.00 18.00">2025</tspan><tspan x="21.00" textLength="12.00" lengthAdjust="spacingAndGlyphs">-</tspan><tspan x="30.00">9</tspan><tspan x="33.00" textLength="12.00" lengthAdjust="spacingAndGlyphs">-</tspan><tspan x="42.00 48.00">16</tspan></text>
<text transform="translate(636.0,368.2) rotate(-89.8) scale(1.0,1.2)"><tspan x="0.00 6.00 12.00 18.00">2025</tspan><tspan x="21.00" textLength="12.00" lengthAdjust="spacingAndGlyphs">-</tspan><tspan x="30.00 36.00">10</tspan><tspan x="39.00" textLength="12.00" lengthAdjust="spacingAndGlyphs">-</tspan><tspan x="48.00">7</tspan></text>
<text transform="translate(678.0,374.2) rotate(-89.8) scale(1.0,1.2)"><tspan x="0.00 6.00 12.00 18.00">2025</tspan><tspan x="21.00" textLength="12.00" lengthAdjust="spacingAndGlyphs">-</tspan><tspan x="30.00 36.00">10</tspan><tspan x="39.00" textLength="12.00" lengthAdjust="spacingAndGlyphs">-</tspan><tspan x="48.00 54.00">28</tspan></text>
<text transform="translate(721.0,374.2) rotate(-89.8) scale(1.0,1.2)"><tspan x="0.00 6.00 12.00 18.00">2025</tspan><tspan x="21.00" textLength="12.00" lengthAdjust="spacingAndGlyphs">-</tspan><tspan x="30.00 36.00">11</tspan><tspan x="39.00" textLength="12.00" lengthAdjust="spacingAndGlyphs">-</tspan><tspan x="48.00 54.00">18</tspan></text>
<text transform="translate(763.0,368.2) rotate(-89.8) scale(1.0,1.2)"><tspan x="0.00 6.00 12.00 18.00">2025</tspan><tspan x="21.00" textLength="12.00" lengthAdjust="spacingAndGlyphs">-</tspan><tspan x="30.00 36.00">12</tspan><tspan x="39.00" textLength="12.00" lengthAdjust="spacingAndGlyphs">-</tspan><tspan x="48.00">9</tspan></text>
<text transform="translate(806.0,374.2) rotate(-89.8) scale(1.0,1.2)"><tspan x="0.00 6.00 12.00 18.00">2025</tspan><tspan x="21.00" textLength="12.00" lengthAdjust="spacingAndGlyphs">-</tspan><tspan x="30.00 36.00">12</tspan><tspan x="39.00" textLength="12.00" lengthAdjust="spacingAndGlyphs">-</tspan><tspan x="48.00 54.00">29</tspan></text>
</g>
</svg>
<div class="lg" style="top:20px">イワキ</div>
<div class="lg" style="top:39px">日経平均株価</div>
</body>
</html>
